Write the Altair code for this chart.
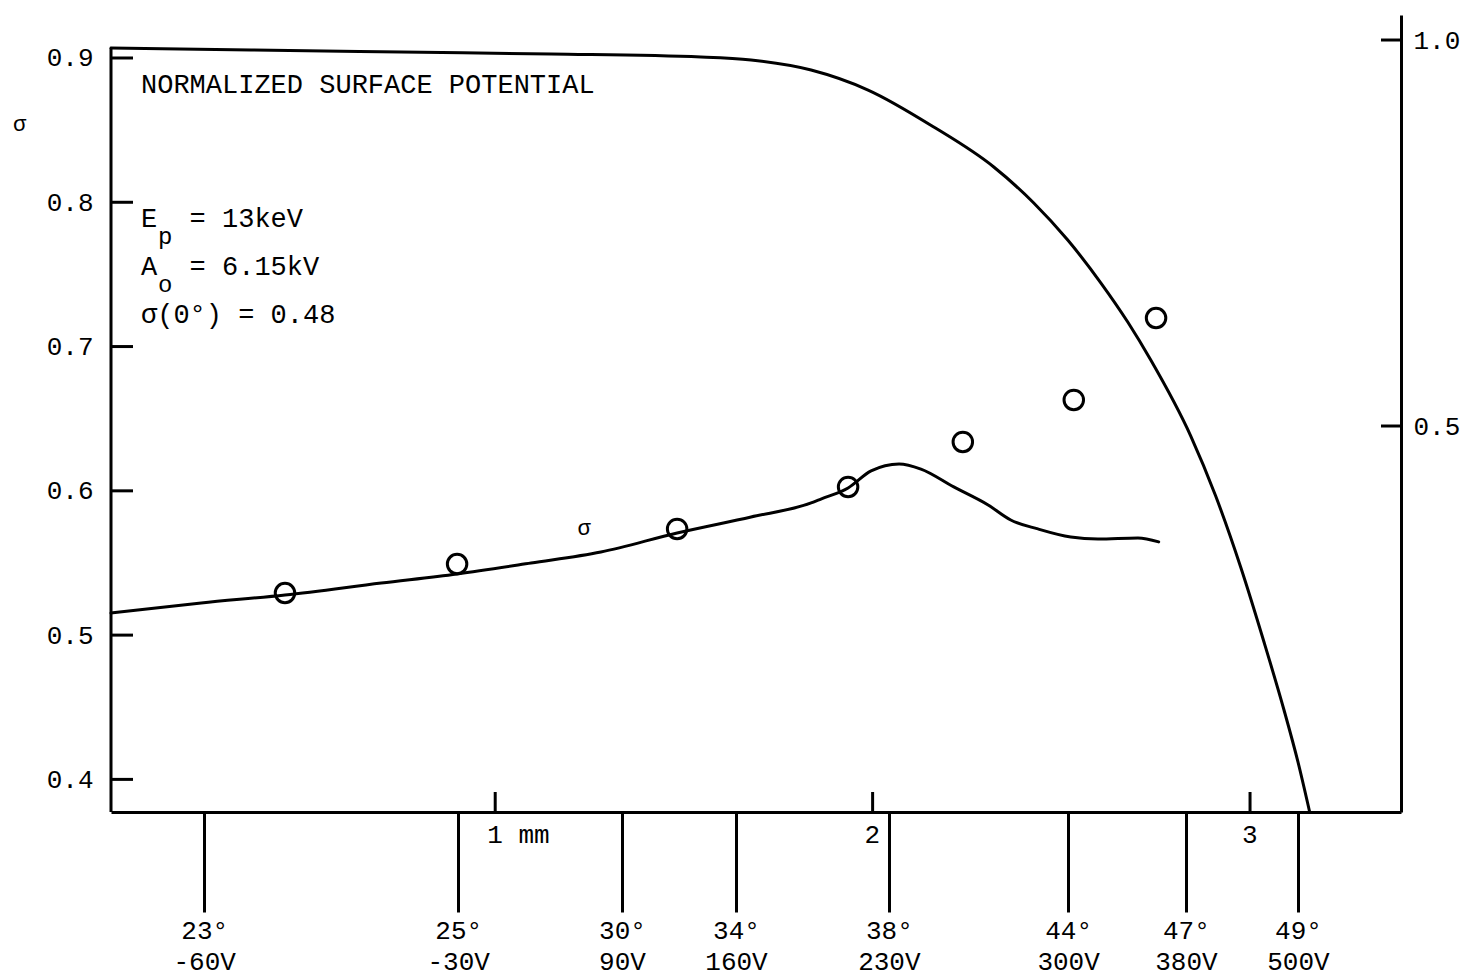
import altair as alt
import pandas as pd

FONT = "Liberation Mono"
W, H = 1290, 797
NB = "\u00a0"

# scales (x in mm, left axis sigma, right axis normalized potential)
X_DOM = [-0.018, 3.4]
LEFT_DOM = [0.3774, 0.9298]
RIGHT_DOM = [0.0, 1.0324]

# sigma curve (left axis)
SIG_MM = [-0.018, 0.221, 0.443, 0.698, 0.899, 1.095, 1.280, 1.482, 1.678, 1.837,
          1.863, 1.935, 1.996, 2.070, 2.128, 2.215, 2.306, 2.366, 2.438, 2.525,
          2.597, 2.703, 2.758]
SIG_VAL = [0.5153, 0.5223, 0.5278, 0.5361, 0.5424, 0.5500, 0.5576, 0.5708, 0.5819, 0.5916,
           0.5943, 0.6020, 0.6138, 0.6186, 0.6151, 0.6027, 0.5902, 0.5798, 0.5736, 0.5680,
           0.5666, 0.5673, 0.5646]

# measured sigma points (open circles)
PT_MM = [0.443, 0.899, 1.482, 1.935, 2.239, 2.533, 2.751]
PT_VAL = [0.5292, 0.5493, 0.5736, 0.6027, 0.6339, 0.6630, 0.7198]

# normalized surface potential (right axis)
POT_MM = [-0.018, 0.353, 0.751, 1.148, 1.545, 1.678, 1.837, 1.988, 2.162, 2.321,
          2.427, 2.517, 2.605, 2.676, 2.737, 2.843, 2.909, 2.976, 3.037, 3.090,
          3.127, 3.158]
POT_VAL = [0.9896, 0.9870, 0.9845, 0.9819, 0.9780, 0.9741, 0.9611, 0.9352, 0.8873, 0.8355,
           0.7889, 0.7409, 0.6852, 0.6347, 0.5855, 0.4870, 0.4093, 0.3161, 0.2202, 0.1321,
           0.0648, 0.0]

LEFT_TICKS = [0.4, 0.5, 0.6, 0.7, 0.8, 0.9]
RIGHT_TICKS = [0.5, 1.0]
MM_TICKS = [1, 2, 3]
MM_LABELS = ["1 mm", "2", "3"]
ANGLE_MM = [0.229, 0.902, 1.336, 1.638, 2.043, 2.518, 2.830, 3.127]
ANGLE_LABELS = ["23°", "25°", "30°", "34°", "38°", "44°", "47°", "49°"]
VOLT_LABELS = ["-60V", "-30V", "90V", "160V", "230V", "300V", "380V", "500V"]

label_expr = (
    "[" + ",".join(f"['{a}','{v}']" for a, v in zip(ANGLE_LABELS, VOLT_LABELS)) + "]"
    + "[indexof([" + ",".join(repr(m) for m in ANGLE_MM) + "], datum.value)]"
)

x_axis = alt.Axis(
    values=ANGLE_MM, labelExpr=label_expr, tickSize=100, tickWidth=3,
    tickColor="black", domainColor="black", domainWidth=3,
    labelFont=FONT, labelFontSize=26, labelLineHeight=31, labelPadding=5,
    labelColor="black", grid=False, title=None, labelAngle=0,
    labelOverlap=False, labelFlush=False,
)
y_left_axis = alt.Axis(
    values=LEFT_TICKS, ticks=False, domain=False, labelPadding=18,
    labelFont=FONT, labelFontSize=26, labelColor="black", grid=False,
    format=".1f", title="σ", titleAngle=0, titleX=-92, titleY=108,
    titleFont=FONT, titleFontSize=22, titleFontWeight="normal",
    titleColor="black", titleAlign="center", titleBaseline="middle",
)
y_right_axis = alt.Axis(
    orient="right", values=RIGHT_TICKS, ticks=False, domain=True,
    domainWidth=3, domainColor="black", labelPadding=12,
    labelFont=FONT, labelFontSize=26, labelColor="black", grid=False,
    format=".1f", title=None,
)

X = lambda: alt.X("mm:Q", scale=alt.Scale(domain=X_DOM, nice=False, zero=False), axis=x_axis)
YL = lambda: alt.Y("v:Q", scale=alt.Scale(domain=LEFT_DOM, nice=False, zero=False), axis=y_left_axis)
YR = lambda: alt.Y("u:Q", scale=alt.Scale(domain=RIGHT_DOM, nice=False, zero=False), axis=y_right_axis)

sig_df = pd.DataFrame({"mm": SIG_MM, "v": SIG_VAL})
pt_df = pd.DataFrame({"mm": PT_MM, "v": PT_VAL})
pot_df = pd.DataFrame({"mm": POT_MM, "u": POT_VAL})

sig_line = alt.Chart(sig_df).mark_line(
    color="black", strokeWidth=3, interpolate="monotone", strokeCap="round"
).encode(x=X(), y=YL())

points = alt.Chart(pt_df).mark_point(
    shape="circle", filled=False, size=380, strokeWidth=3, color="black", opacity=1
).encode(x=X(), y=YL())

left_ticks = alt.Chart(pd.DataFrame({"v": LEFT_TICKS})).mark_rule(
    color="black", strokeWidth=3
).encode(y=YL(), x=alt.value(0), x2=alt.value(22))

mm_ticks = alt.Chart(pd.DataFrame({"mm": MM_TICKS})).mark_rule(
    color="black", strokeWidth=3
).encode(x=X(), y=alt.value(H - 20), y2=alt.value(H))

mm_labels = alt.Chart(pd.DataFrame({"mm": MM_TICKS, "t": MM_LABELS})).mark_text(
    font=FONT, fontSize=26, align="left", baseline="middle", dx=-8, color="black"
).encode(x=X(), y=alt.value(H + 23), text="t:N")


def note(text, px, py, size=27, align="left", baseline="alphabetic"):
    return alt.Chart(pd.DataFrame({"t": [text.replace(" ", NB)]})).mark_text(
        font=FONT, fontSize=size, align=align, baseline=baseline, color="black"
    ).encode(text="t:N", x=alt.value(px), y=alt.value(py))


notes = [
    note("NORMALIZED SURFACE POTENTIAL", 30, 78),
    note("E  = 13keV", 30, 212),
    note("p", 47, 229, size=24),
    note("A  = 6.15kV", 30, 260),
    note("o", 47, 277, size=24),
    note("σ(0°) = 0.48", 30, 308),
    note("σ", 473, 513, size=22, align="center", baseline="middle"),
]

left = alt.layer(sig_line, points, left_ticks, mm_ticks, mm_labels, *notes)

pot_line = alt.Chart(pot_df).mark_line(
    color="black", strokeWidth=3, interpolate="monotone", strokeCap="round"
).encode(x=X(), y=YR())

right_ticks = alt.Chart(pd.DataFrame({"u": RIGHT_TICKS})).mark_rule(
    color="black", strokeWidth=3
).encode(y=YR(), x=alt.value(W - 20), x2=alt.value(W))

frame = alt.Chart(pd.DataFrame({"u": [POT_VAL[0]]})).mark_rule(
    color="black", strokeWidth=3
).encode(y=YR(), y2=alt.value(H), x=alt.value(0))

right = alt.layer(pot_line, right_ticks, frame)

chart = (
    alt.layer(left, right)
    .resolve_scale(y="independent")
    .properties(width=W, height=H, padding={"left": 4, "top": 7, "right": 0, "bottom": 20})
    .configure(background="white")
    .configure_view(stroke="transparent", strokeWidth=0)
)

chart.save("out.html", embed_options={"renderer": "svg", "actions": False})
